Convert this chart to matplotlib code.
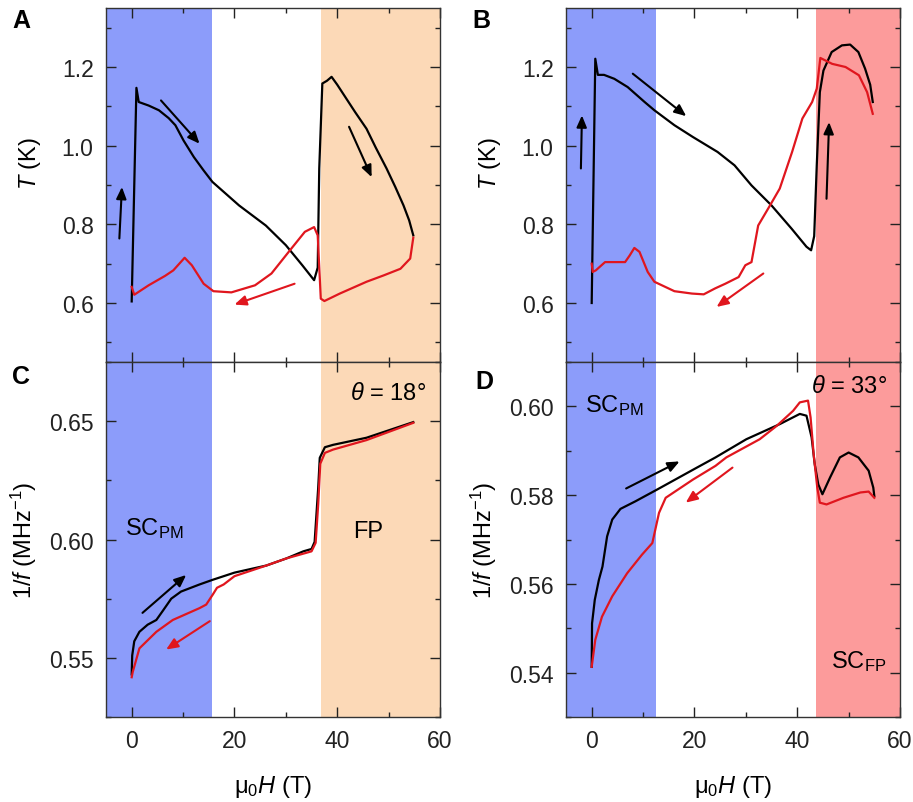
import matplotlib
matplotlib.use("Agg")
import matplotlib.pyplot as plt
from matplotlib.ticker import MultipleLocator

plt.rcParams['font.family'] = ['Liberation Sans', 'DejaVu Sans']
plt.rcParams['mathtext.fontset'] = 'custom'
plt.rcParams['mathtext.rm'] = 'Liberation Sans'
plt.rcParams['mathtext.it'] = 'Liberation Sans:italic'
plt.rcParams['mathtext.bf'] = 'Liberation Sans:bold'

# ---------------- data ----------------
# Panel A (theta = 18 deg): temperature
a_up_H = [0, 0.92, 1.37, 3.3, 5.3, 7.2, 8.5, 10.1, 12.1, 14.0, 15.7, 20.9, 26.1, 30.0, 33.2, 35.5, 36.2,
          36.5, 37.1, 38.0, 38.9, 40, 41.8, 43.5, 45.7, 47.5, 49.6, 51.3, 52.9, 54.0, 54.8]
a_up_T = [0.604, 1.147, 1.111, 1.102, 1.090, 1.070, 1.052, 1.013, 0.971, 0.937, 0.908, 0.848, 0.797,
          0.747, 0.696, 0.658, 0.69, 0.942, 1.158, 1.165, 1.175, 1.155, 1.119, 1.085, 1.043, 0.995, 0.942,
          0.895, 0.848, 0.81, 0.772]
a_dn_H = [54.8, 54.2, 52.3, 49, 45.7, 40.5, 37.5, 36.8, 36.2, 35.5, 33.7, 30.8, 27.2, 24.0, 19.4, 15.9,
          14.0, 11.7, 10.3, 8.1, 6.5, 3.3, 0.5, 0]
a_dn_T = [0.766, 0.713, 0.687, 0.670, 0.654, 0.624, 0.605, 0.611, 0.772, 0.793, 0.781, 0.734, 0.675,
          0.645, 0.627, 0.630, 0.649, 0.696, 0.715, 0.683, 0.669, 0.645, 0.621, 0.641]

# Panel B (theta = 33 deg): temperature
b_up_H = [0, 0.7, 1.2, 2.4, 4.4, 7.0, 10.3, 12.2, 16.1, 19.7, 24.5, 27.8, 31.1, 35, 38.9, 41.8, 42.7,
          43.3, 43.8, 44.4, 45.1, 46.7, 48.7, 50.3, 51.9, 53.2, 54.2, 54.7]
b_up_T = [0.60, 1.221, 1.180, 1.18, 1.170, 1.149, 1.111, 1.090, 1.052, 1.022, 0.984, 0.950, 0.899, 0.848,
          0.789, 0.743, 0.734, 0.77, 0.95, 1.136, 1.191, 1.238, 1.255, 1.257, 1.238, 1.196, 1.155, 1.111]
b_dn_H = [54.7, 53.6, 52.0, 49.4, 46.8, 44.5, 43.8, 42.9, 41.0, 39.0, 36.6, 34.7, 32.4, 31.1, 29.9, 28.6,
          26.0, 24.0, 21.8, 19.5, 16.1, 12.2, 10.9, 9.3, 8.3, 7.4, 6.5, 4.6, 2.6, 0.8, 0.2, 0]
b_dn_T = [1.081, 1.136, 1.179, 1.200, 1.208, 1.223, 1.145, 1.111, 1.069, 0.984, 0.891, 0.848, 0.797, 0.704,
          0.696, 0.666, 0.649, 0.637, 0.622, 0.624, 0.630, 0.654, 0.679, 0.730, 0.740, 0.721, 0.704, 0.704,
          0.704, 0.683, 0.679, 0.70]

# Panel C (theta = 18 deg): 1/f
c_up_H = [0, 0.1, 0.5, 1.5, 3.1, 4.8, 6.1, 7.7, 9.6, 13.2, 15.8, 20, 26.2, 30.1, 33.4, 35, 35.6, 36.3,
          36.6, 37.6, 39.2, 45.7, 54.8]
c_up_F = [0.543, 0.551, 0.557, 0.561, 0.564, 0.566, 0.570, 0.575, 0.578, 0.581, 0.583, 0.586, 0.589,
          0.592, 0.595, 0.596, 0.599, 0.622, 0.6345, 0.639, 0.640, 0.643, 0.6496]
c_dn_H = [54.8, 45.7, 39.2, 37.6, 36.7, 36.3, 35.8, 35, 30.1, 26.2, 20, 17.9, 16.6, 15.8, 14.5, 13.2, 8,
          4.8, 1.5, 0.2, 0]
c_dn_F = [0.6493, 0.642, 0.638, 0.6366, 0.632, 0.615, 0.5986, 0.595, 0.592, 0.589, 0.5845, 0.581,
          0.5796, 0.5768, 0.5725, 0.571, 0.566, 0.561, 0.554, 0.544, 0.5418]

# Panel D (theta = 33 deg): 1/f
d_up_H = [0, 0.07, 0.6, 1.4, 2.1, 3.0, 4.0, 5.6, 8.5, 12.8, 20, 24.1, 30.1, 36.6, 40.5, 41.8, 42.8, 43.4,
          44.1, 44.9, 46.4, 48.3, 50.0, 51.9, 53.9, 54.8, 55.0]
d_up_F = [0.5413, 0.5511, 0.5564, 0.5609, 0.5639, 0.5707, 0.5745, 0.5769, 0.5786, 0.5813, 0.5859, 0.5885,
          0.5926, 0.596, 0.5983, 0.5979, 0.593, 0.587, 0.5824, 0.5802, 0.584, 0.5885, 0.5896, 0.5885,
          0.5855, 0.5817, 0.5798]
d_dn_H = [55.0, 53.9, 52.3, 49.0, 45.7, 44.4, 43.9, 43.2, 42.6, 42.1, 40.5, 39.2, 36, 32.7, 26.2, 24.1,
          19.7, 14.4, 13.1, 11.8, 9.8, 6.9, 4.0, 2.0, 0.7, 0]
d_dn_F = [0.5794, 0.5808, 0.5806, 0.5794, 0.5779, 0.5783, 0.5817, 0.5892, 0.5975, 0.6013, 0.6009,
          0.599, 0.5956, 0.5926, 0.5885, 0.5866, 0.5835, 0.5794, 0.5760, 0.5692, 0.5666, 0.5624, 0.5572,
          0.5526, 0.5474, 0.5413]

# shaded phase regions (field ranges)
left_blue = (-5, 15.7)
left_orange = (36.8, 60)
right_blue = (-5, 12.6)
right_red = (43.6, 60)

# arrows: (H_start, y_start, H_end, y_end, color)
arrows_a = [(-2.4, 0.764, -1.9, 0.895, 'k'), (5.7, 1.115, 13.2, 1.005, 'k'),
            (42.3, 1.048, 46.7, 0.920, 'k'), (31.7, 0.649, 20.0, 0.596, 'r')]
arrows_b = [(-2.1, 0.942, -1.9, 1.077, 'k'), (8.0, 1.183, 18.4, 1.075, 'k'),
            (45.7, 0.865, 46.2, 1.060, 'k'), (33.4, 0.675, 24.3, 0.590, 'r')]
arrows_c = [(2.1, 0.569, 10.6, 0.585, 'k'), (15.2, 0.5655, 6.7, 0.5535, 'r')]
arrows_d = [(6.7, 0.5815, 17.1, 0.5876, 'k'), (27.4, 0.5862, 18.3, 0.5783, 'r')]

BLUE = '#8c9cfa'
ORANGE = '#fcd9b7'
PINK = '#fc9b9b'
RED = '#e0161e'

fig = plt.figure(figsize=(9.13, 8.03), dpi=100)
W, Hh = 913.0, 803.0
lx, rx, aw = 106 / W, 566 / W, 334 / W
top_b, top_h = (803 - 363) / Hh, 354 / Hh
bot_b, bot_h = (803 - 718) / Hh, 355 / Hh

axA = fig.add_axes([lx, top_b, aw, top_h])
axB = fig.add_axes([rx, top_b, aw, top_h])
axC = fig.add_axes([lx, bot_b, aw, bot_h])
axD = fig.add_axes([rx, bot_b, aw, bot_h])

def style(ax, ylim, major, minor, showx):
    ax.set_xlim(-5, 60)
    ax.set_ylim(*ylim)
    ax.xaxis.set_major_locator(MultipleLocator(20))
    ax.xaxis.set_minor_locator(MultipleLocator(10))
    ax.yaxis.set_major_locator(MultipleLocator(major))
    ax.yaxis.set_minor_locator(MultipleLocator(minor))
    ax.tick_params(which='both', direction='in', top=True, right=True, width=1.0,
                   labelsize=16.5, pad=9, colors='#222222')
    ax.tick_params(which='major', length=7)
    ax.tick_params(which='minor', length=3.6)
    if not showx:
        ax.tick_params(labelbottom=False)
    for s in ax.spines.values():
        s.set_linewidth(1.0)
        s.set_color('#333333')

def arrows(ax, lst):
    for x0, y0, x1, y1, c in lst:
        col = 'black' if c == 'k' else RED
        ax.annotate('', xy=(x1, y1), xytext=(x0, y0),
                    arrowprops=dict(arrowstyle='-|>,head_length=0.7,head_width=0.3',
                                    color=col, lw=1.5, shrinkA=0, shrinkB=0))

# A
axA.axvspan(*left_blue, color=BLUE, lw=0)
axA.axvspan(*left_orange, color=ORANGE, lw=0)
axA.plot(a_up_H, a_up_T, color='black', lw=1.6)
axA.plot(a_dn_H, a_dn_T, color=RED, lw=1.6)
style(axA, (0.45, 1.35), 0.2, 0.1, False)
arrows(axA, arrows_a)
axA.set_ylabel('$T$ (K)', fontsize=17)

# B
axB.axvspan(*right_blue, color=BLUE, lw=0)
axB.axvspan(*right_red, color=PINK, lw=0)
axB.plot(b_up_H, b_up_T, color='black', lw=1.6)
axB.plot(b_dn_H, b_dn_T, color=RED, lw=1.6)
style(axB, (0.45, 1.35), 0.2, 0.1, False)
arrows(axB, arrows_b)
axB.set_ylabel('$T$ (K)', fontsize=17)

# C
axC.axvspan(*left_blue, color=BLUE, lw=0)
axC.axvspan(*left_orange, color=ORANGE, lw=0)
axC.plot(c_up_H, c_up_F, color='black', lw=1.6)
axC.plot(c_dn_H, c_dn_F, color=RED, lw=1.6)
style(axC, (0.525, 0.675), 0.05, 0.025, True)
arrows(axC, arrows_c)
axC.set_ylabel('1/$f$ (MHz$^{-1}$)', fontsize=17)
axC.set_xlabel('μ$_0$$H$ (T)', fontsize=17)
axC.text(4.4, 0.605, 'SC$_{\\mathrm{PM}}$', fontsize=17, ha='center', va='center')
axC.text(46, 0.6035, 'FP', fontsize=17, ha='center', va='center')
axC.text(57.2, 0.662, '$\\theta$ = 18°', fontsize=17, ha='right', va='center')

# D
axD.axvspan(*right_blue, color=BLUE, lw=0)
axD.axvspan(*right_red, color=PINK, lw=0)
axD.plot(d_up_H, d_up_F, color='black', lw=1.6)
axD.plot(d_dn_H, d_dn_F, color=RED, lw=1.6)
style(axD, (0.53, 0.61), 0.02, 0.01, True)
arrows(axD, arrows_d)
axD.set_ylabel('1/$f$ (MHz$^{-1}$)', fontsize=17)
axD.set_xlabel('μ$_0$$H$ (T)', fontsize=17)
axD.text(4.4, 0.6003, 'SC$_{\\mathrm{PM}}$', fontsize=17, ha='center', va='center')
axD.text(57.4, 0.6047, '$\\theta$ = 33°', fontsize=17, ha='right', va='center')
axD.text(57.4, 0.5428, 'SC$_{\\mathrm{FP}}$', fontsize=17, ha='right', va='center')

for ax in (axA, axB):
    ax.yaxis.set_label_coords(-0.19, 0.565)
for ax in (axC, axD):
    ax.yaxis.set_label_coords(-0.20, 0.50)
    ax.xaxis.set_label_coords(0.5, -0.158)

for lab, x, y in [('A', 12, 9), ('B', 472, 9), ('C', 12, 365), ('D', 475, 370)]:
    fig.text(x / W, 1 - y / Hh, lab, fontsize=18, fontweight='bold', ha='left', va='top')

fig.savefig('out.png', dpi=100)
